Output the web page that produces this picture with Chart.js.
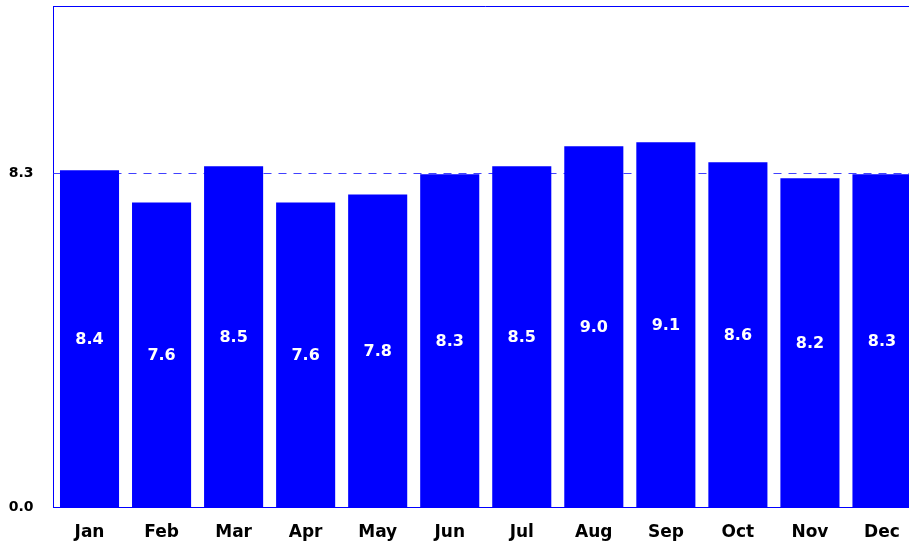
<!DOCTYPE html>
<html>
<head>
<meta charset="utf-8">
<script src="https://cdn.jsdelivr.net/npm/chart.js@4"></script>
<style>
  html, body { margin: 0; padding: 0; background: #fff; overflow: hidden; }
  #wrap { width: 918px; height: 544px; }
</style>
</head>
<body>
<div id="wrap"><canvas id="chart"></canvas></div>
<script>
// Monthly values
let months = ['Jan','Feb','Mar','Apr','May','Jun','Jul','Aug','Sep','Oct','Nov','Dec'];
let values = [8.4, 7.6, 8.5, 7.6, 7.8, 8.3, 8.5, 9.0, 9.1, 8.6, 8.2, 8.3];
let average = values.reduce((a,b) => a+b, 0) / values.length;
let yTicks = [0, average];

let blue = '#0000ff';
let font = 'DejaVu Sans, Verdana, sans-serif';

// Average line behind bars, labels in the middle of each bar, top frame line
let extras = {
  id: 'extras',
  beforeDatasetsDraw(chart) {
    let ctx = chart.ctx;
    let area = chart.chartArea;
    let y = Math.round(chart.scales.y.getPixelForValue(average)) + 0.5;
    ctx.save();
    ctx.strokeStyle = '#4040ff';
    ctx.lineWidth = 1;
    ctx.setLineDash([8, 7]);
    ctx.beginPath();
    ctx.moveTo(area.left, y);
    ctx.lineTo(area.right, y);
    ctx.stroke();
    ctx.restore();
  },
  afterDatasetsDraw(chart) {
    let ctx = chart.ctx;
    let meta = chart.getDatasetMeta(0);
    ctx.save();
    ctx.fillStyle = '#fff';
    ctx.font = 'bold 16px ' + font;
    ctx.textAlign = 'center';
    ctx.textBaseline = 'middle';
    meta.data.forEach((bar, i) => {
      ctx.fillText(values[i].toFixed(1), bar.x, (bar.y + bar.base) / 2 + 1);
    });
    let area = chart.chartArea;
    ctx.strokeStyle = blue;
    ctx.lineWidth = 1;
    ctx.beginPath();
    ctx.moveTo(area.left, area.top + 0.5);
    ctx.lineTo(area.right, area.top + 0.5);
    ctx.stroke();
    ctx.restore();
  }
};

new Chart(document.getElementById('chart'), {
  type: 'bar',
  data: {
    labels: months,
    datasets: [{
      data: values,
      backgroundColor: blue,
      borderWidth: 0,
      categoryPercentage: 1,
      barPercentage: 0.82,
    }],
  },
  options: {
    responsive: true,
    maintainAspectRatio: false,
    animation: false,
    layout: { padding: { top: 6, right: 0, left: 0, bottom: 0 } },
    plugins: {
      legend: { display: false },
      tooltip: { enabled: false },
    },
    scales: {
      x: {
        grid: { display: false, drawTicks: false },
        border: { display: true, color: blue, width: 1 },
        ticks: {
          color: '#000',
          padding: 15,
          font: { family: font, size: 17, weight: 'bold' },
        },
        afterFit(scale) { scale.height = 37; },
      },
      y: {
        min: 0,
        max: 12.5,
        afterBuildTicks(scale) {
          scale.ticks = yTicks.map(v => ({ value: v }));
        },
        grid: { display: false, drawTicks: false },
        border: { display: true, color: blue, width: 1 },
        ticks: {
          color: '#000',
          padding: 20,
          font: { family: font, size: 14, weight: 'bold' },
          callback: v => v.toFixed(1),
        },
        afterFit(scale) {
          scale.width = 53.5;
          scale.paddingTop = 0;
          scale.paddingBottom = 0;
        },
      },
    },
  },
  plugins: [extras],
});
</script>
</body>
</html>
